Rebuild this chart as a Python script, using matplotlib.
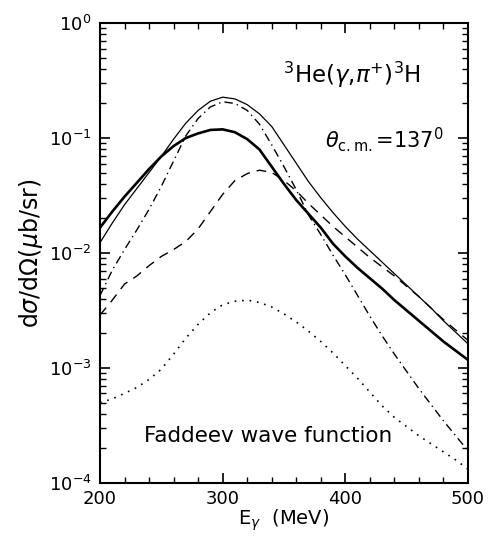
import numpy as np
import matplotlib
matplotlib.use('Agg')
import matplotlib.pyplot as plt
import matplotlib.transforms as mtransforms
from matplotlib.ticker import MultipleLocator, LogLocator, NullFormatter

# photon energy grid (MeV)
e_gamma = np.arange(200, 501, 10)

# log10 of d sigma / d Omega (mub/sr)
log_thin = [-1.91, -1.74, -1.58, -1.44, -1.30, -1.16, -1.01, -0.87, -0.76, -0.68,
            -0.645, -0.66, -0.71, -0.79, -0.90, -1.06, -1.22, -1.38, -1.52, -1.65,
            -1.77, -1.88, -1.98, -2.08, -2.18, -2.28, -2.38, -2.48, -2.59, -2.69, -2.79]
log_thick = [-1.78, -1.64, -1.51, -1.39, -1.27, -1.16, -1.07, -1.00, -0.96, -0.93,
             -0.925, -0.95, -1.01, -1.10, -1.25, -1.40, -1.54, -1.66, -1.78, -1.92,
             -2.03, -2.13, -2.22, -2.31, -2.41, -2.50, -2.59, -2.68, -2.77, -2.85, -2.93]
log_dashdot = [-2.37, -2.15, -1.97, -1.80, -1.62, -1.42, -1.20, -0.98, -0.83, -0.73,
               -0.685, -0.70, -0.76, -0.88, -1.06, -1.25, -1.45, -1.67, -1.84, -2.02,
               -2.19, -2.37, -2.55, -2.72, -2.88, -3.03, -3.18, -3.32, -3.46, -3.59, -3.72]
log_dashed = [-2.54, -2.41, -2.27, -2.20, -2.11, -2.03, -1.97, -1.90, -1.79, -1.64,
              -1.49, -1.37, -1.31, -1.28, -1.30, -1.37, -1.46, -1.57, -1.67, -1.77,
              -1.86, -1.95, -2.04, -2.12, -2.20, -2.29, -2.38, -2.48, -2.58, -2.67, -2.76]
log_dotted = [-3.30, -3.27, -3.22, -3.17, -3.10, -3.01, -2.88, -2.74, -2.62, -2.52,
              -2.45, -2.42, -2.41, -2.43, -2.47, -2.53, -2.60, -2.68, -2.77, -2.87,
              -2.98, -3.09, -3.21, -3.33, -3.43, -3.51, -3.59, -3.66, -3.73, -3.80, -3.88]

fig = plt.figure(figsize=(4.99, 5.40), dpi=100)
ax = fig.add_axes([0.2004, 0.1056, 0.7375, 0.8518])

ax.plot(e_gamma, 10.0 ** np.array(log_thin), color='black', lw=0.9)
ax.plot(e_gamma, 10.0 ** np.array(log_thick), color='black', lw=1.9)
ax.plot(e_gamma, 10.0 ** np.array(log_dashdot), color='black', lw=1.0,
        linestyle=(0, (6, 3, 1, 3)))
ax.plot(e_gamma, 10.0 ** np.array(log_dashed), color='black', lw=1.0,
        linestyle=(0, (7, 5)))
ax.plot(e_gamma, 10.0 ** np.array(log_dotted), color='black', lw=1.2,
        linestyle=(0, (1, 3.5)))

ax.set_yscale('log')
ax.set_xlim(200, 500)
ax.set_ylim(1e-4, 1)

ax.xaxis.set_major_locator(MultipleLocator(100))
ax.xaxis.set_minor_locator(MultipleLocator(20))
ax.yaxis.set_major_locator(LogLocator(base=10, numticks=10))
ax.yaxis.set_minor_locator(LogLocator(base=10, subs=np.arange(2, 10), numticks=20))
ax.yaxis.set_minor_formatter(NullFormatter())

ax.tick_params(which='both', direction='in', top=True, right=True, labelsize=13)
ax.tick_params(which='major', length=7.5, width=1.2)
ax.tick_params(which='minor', length=4, width=1.0)
ax.tick_params(axis='y', which='major', pad=6)
ax.tick_params(axis='x', which='major', pad=5)
for sp in ax.spines.values():
    sp.set_linewidth(1.5)

# lift the lowest y label a little so it clears the "200"
lift = mtransforms.ScaledTranslation(0, 5 / 100, fig.dpi_scale_trans)
for tick in ax.yaxis.get_major_ticks():
    if abs(tick.get_loc() - 1e-4) < 1e-9:
        tick.label1.set_transform(tick.label1.get_transform() + lift)

ax.set_ylabel(r'd$\sigma$/d$\Omega$($\mu$b/sr)', fontsize=17, labelpad=3)
ax.set_xlabel(r'E$_{\gamma}$  (MeV)', fontsize=14, labelpad=0)

ax.text(0.497, 0.870, r'$^{3}$He($\gamma$,$\pi^{+}$)$^{3}$H', transform=ax.transAxes,
        fontsize=16.5, ha='left', va='baseline')
ax.text(0.611, 0.730, r'$\theta_{\rm c.m.}$=137$^{0}$', transform=ax.transAxes,
        fontsize=15, ha='left', va='baseline')
ax.text(0.12, 0.090, 'Faddeev wave function', transform=ax.transAxes,
        fontsize=15.5, ha='left', va='baseline')

fig.savefig('out.png', dpi=100)
